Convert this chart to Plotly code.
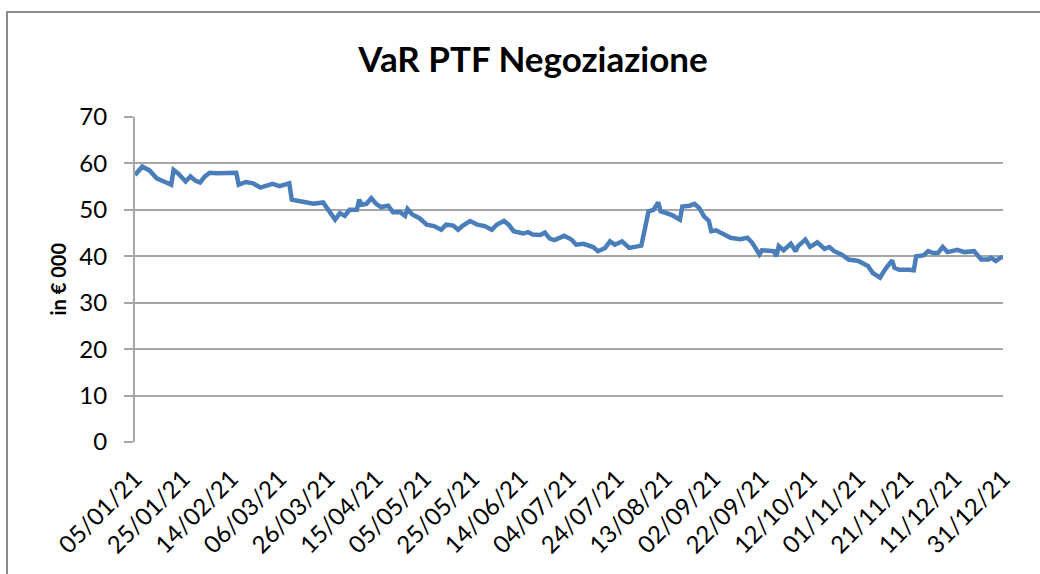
import plotly.graph_objects as go
from datetime import datetime

dates = [
    "2021-01-05", "2021-01-08", "2021-01-11", "2021-01-14", "2021-01-17", "2021-01-20",
    "2021-01-21", "2021-01-23", "2021-01-26", "2021-01-28", "2021-01-30", "2021-02-01",
    "2021-02-03", "2021-02-05", "2021-02-08", "2021-02-12", "2021-02-16", "2021-02-17",
    "2021-02-20", "2021-02-23", "2021-02-26", "2021-03-03", "2021-03-06", "2021-03-10",
    "2021-03-11", "2021-03-15", "2021-03-20", "2021-03-24", "2021-03-26", "2021-03-29",
    "2021-03-31", "2021-04-02", "2021-04-04", "2021-04-07", "2021-04-08", "2021-04-09",
    "2021-04-11", "2021-04-13", "2021-04-15", "2021-04-17", "2021-04-20", "2021-04-22",
    "2021-04-25", "2021-04-27", "2021-04-28", "2021-04-30", "2021-05-03", "2021-05-06",
    "2021-05-09", "2021-05-12", "2021-05-14", "2021-05-17", "2021-05-19", "2021-05-21",
    "2021-05-24", "2021-05-27", "2021-05-30", "2021-06-02", "2021-06-04", "2021-06-07",
    "2021-06-09", "2021-06-11", "2021-06-15", "2021-06-17", "2021-06-19", "2021-06-22",
    "2021-06-24", "2021-06-26", "2021-06-28", "2021-07-02", "2021-07-05", "2021-07-07",
    "2021-07-10", "2021-07-14", "2021-07-16", "2021-07-19", "2021-07-21", "2021-07-23",
    "2021-07-26", "2021-07-29", "2021-08-03", "2021-08-06", "2021-08-08", "2021-08-10",
    "2021-08-11", "2021-08-13", "2021-08-16", "2021-08-19", "2021-08-20", "2021-08-23",
    "2021-08-25", "2021-08-27", "2021-08-29", "2021-08-31", "2021-09-01", "2021-09-03",
    "2021-09-06", "2021-09-09", "2021-09-13", "2021-09-16", "2021-09-18", "2021-09-20",
    "2021-09-21", "2021-09-22", "2021-09-27", "2021-09-28", "2021-09-29", "2021-10-01",
    "2021-10-04", "2021-10-06", "2021-10-07", "2021-10-10", "2021-10-12", "2021-10-15",
    "2021-10-16", "2021-10-18", "2021-10-20", "2021-10-22", "2021-10-25", "2021-10-28",
    "2021-11-01", "2021-11-05", "2021-11-07", "2021-11-10", "2021-11-12", "2021-11-15",
    "2021-11-16", "2021-11-18", "2021-11-22", "2021-11-24", "2021-11-25", "2021-11-28",
    "2021-11-30", "2021-12-02", "2021-12-04", "2021-12-06", "2021-12-08", "2021-12-12",
    "2021-12-15", "2021-12-19", "2021-12-22", "2021-12-25", "2021-12-26", "2021-12-28",
    "2021-12-30", "2021-12-31",
]

var_values = [
    57.5, 59.3, 58.5, 56.8, 56.1, 55.4,
    58.6, 57.8, 56.1, 57.2, 56.3, 55.9,
    57.2, 58.0, 57.9, 58.0, 58.0, 55.4,
    56.0, 55.7, 54.8, 55.6, 55.1, 55.7,
    52.2, 51.8, 51.3, 51.6, 50.0, 47.9,
    49.3, 48.7, 50.0, 50.0, 52.2, 51.1,
    51.3, 52.5, 51.3, 50.6, 50.9, 49.5,
    49.5, 48.7, 50.2, 49.0, 48.2, 46.8,
    46.5, 45.7, 46.8, 46.6, 45.7, 46.6,
    47.6, 46.8, 46.5, 45.7, 46.8, 47.6,
    46.8, 45.4, 44.9, 45.2, 44.7, 44.6,
    45.1, 43.8, 43.5, 44.4, 43.6, 42.5,
    42.7, 42.0, 41.1, 41.8, 43.2, 42.5,
    43.2, 41.8, 42.3, 49.7, 50.0, 51.6,
    49.7, 49.3, 48.8, 47.9, 50.7, 50.9,
    51.3, 50.4, 48.6, 47.6, 45.4, 45.6,
    44.9, 44.0, 43.7, 44.0, 42.9, 41.4,
    40.4, 41.3, 41.1, 40.0, 42.2, 41.3,
    42.7, 41.1, 42.2, 43.6, 42.0, 43.0,
    42.5, 41.6, 42.0, 41.1, 40.4, 39.3,
    39.0, 37.9, 36.4, 35.4, 37.1, 39.1,
    37.5, 37.1, 37.1, 37.0, 40.0, 40.2,
    41.1, 40.7, 40.7, 42.0, 40.9, 41.4,
    40.9, 41.1, 39.3, 39.3, 39.7, 39.0,
    39.7, 39.9,
]

tick_labels = [
    "05/01/21", "25/01/21", "14/02/21", "06/03/21", "26/03/21", "15/04/21",
    "05/05/21", "25/05/21", "14/06/21", "04/07/21", "24/07/21", "13/08/21",
    "02/09/21", "22/09/21", "12/10/21", "01/11/21", "21/11/21", "11/12/21",
    "31/12/21",
]
y_ticks = [0, 10, 20, 30, 40, 50, 60, 70]

title_text = "VaR PTF Negoziazione"
y_title = "in € 000"

tick_vals = [datetime.strptime(t, "%d/%m/%y").strftime("%Y-%m-%d") for t in tick_labels]

FONT = "Lato, 'Open Sans', sans-serif"
GRID = "#a6a6a6"

fig = go.Figure()
fig.add_trace(go.Scatter(
    x=dates, y=var_values, mode="lines",
    line=dict(color="#4a7ebb", width=4.5),
    hoverinfo="x+y", showlegend=False,
))

fig.update_layout(
    width=1040, height=574,
    margin=dict(l=135, r=37, t=117, b=132),
    paper_bgcolor="white", plot_bgcolor="white",
    font=dict(family=FONT, color="#000000"),
    title=dict(text="<b>" + title_text + "</b>", x=533 / 1040, xanchor="center",
               y=1 - 60 / 574, yanchor="middle",
               font=dict(size=35, family=FONT, color="#000000")),
    xaxis=dict(
        type="date",
        range=[tick_vals[0], tick_vals[-1]],
        tickmode="array", tickvals=tick_vals, ticktext=tick_labels,
        tickangle=-45, tickfont=dict(size=24, family=FONT, color="#000000"),
        showgrid=False, zeroline=False,
        showline=False, ticks="", ticklabelstandoff=17,
    ),
    yaxis=dict(
        range=[0, 70], tickmode="array", tickvals=y_ticks,
        tickfont=dict(size=24, family=FONT, color="#000000"),
        showgrid=True, gridcolor=GRID, gridwidth=2,
        showline=True, linecolor=GRID, linewidth=2,
        ticks="outside", ticklen=9, tickcolor=GRID, tickwidth=2,
        ticklabelstandoff=12,
        zeroline=False,
    ),
    annotations=[dict(
        text="<b>" + y_title + "</b>", xref="paper", yref="paper",
        x=(57 - 135) / 868, y=0.5, xanchor="center", yanchor="middle",
        textangle=-90, showarrow=False,
        font=dict(size=20, family=FONT, color="#000000"),
    )],
    shapes=[dict(
        type="rect", xref="paper", yref="paper",
        x0=(7 - 135) / 868, x1=(1060 - 135) / 868,
        y0=(442 - 600) / 325, y1=(442 - 12) / 325,
        line=dict(color="#8c8c8c", width=2), fillcolor="rgba(0,0,0,0)",
        layer="below",
    )],
)

fig.write_html("out.html", config={"displayModeBar": False},
               post_script="document.body.style.margin='0';")
